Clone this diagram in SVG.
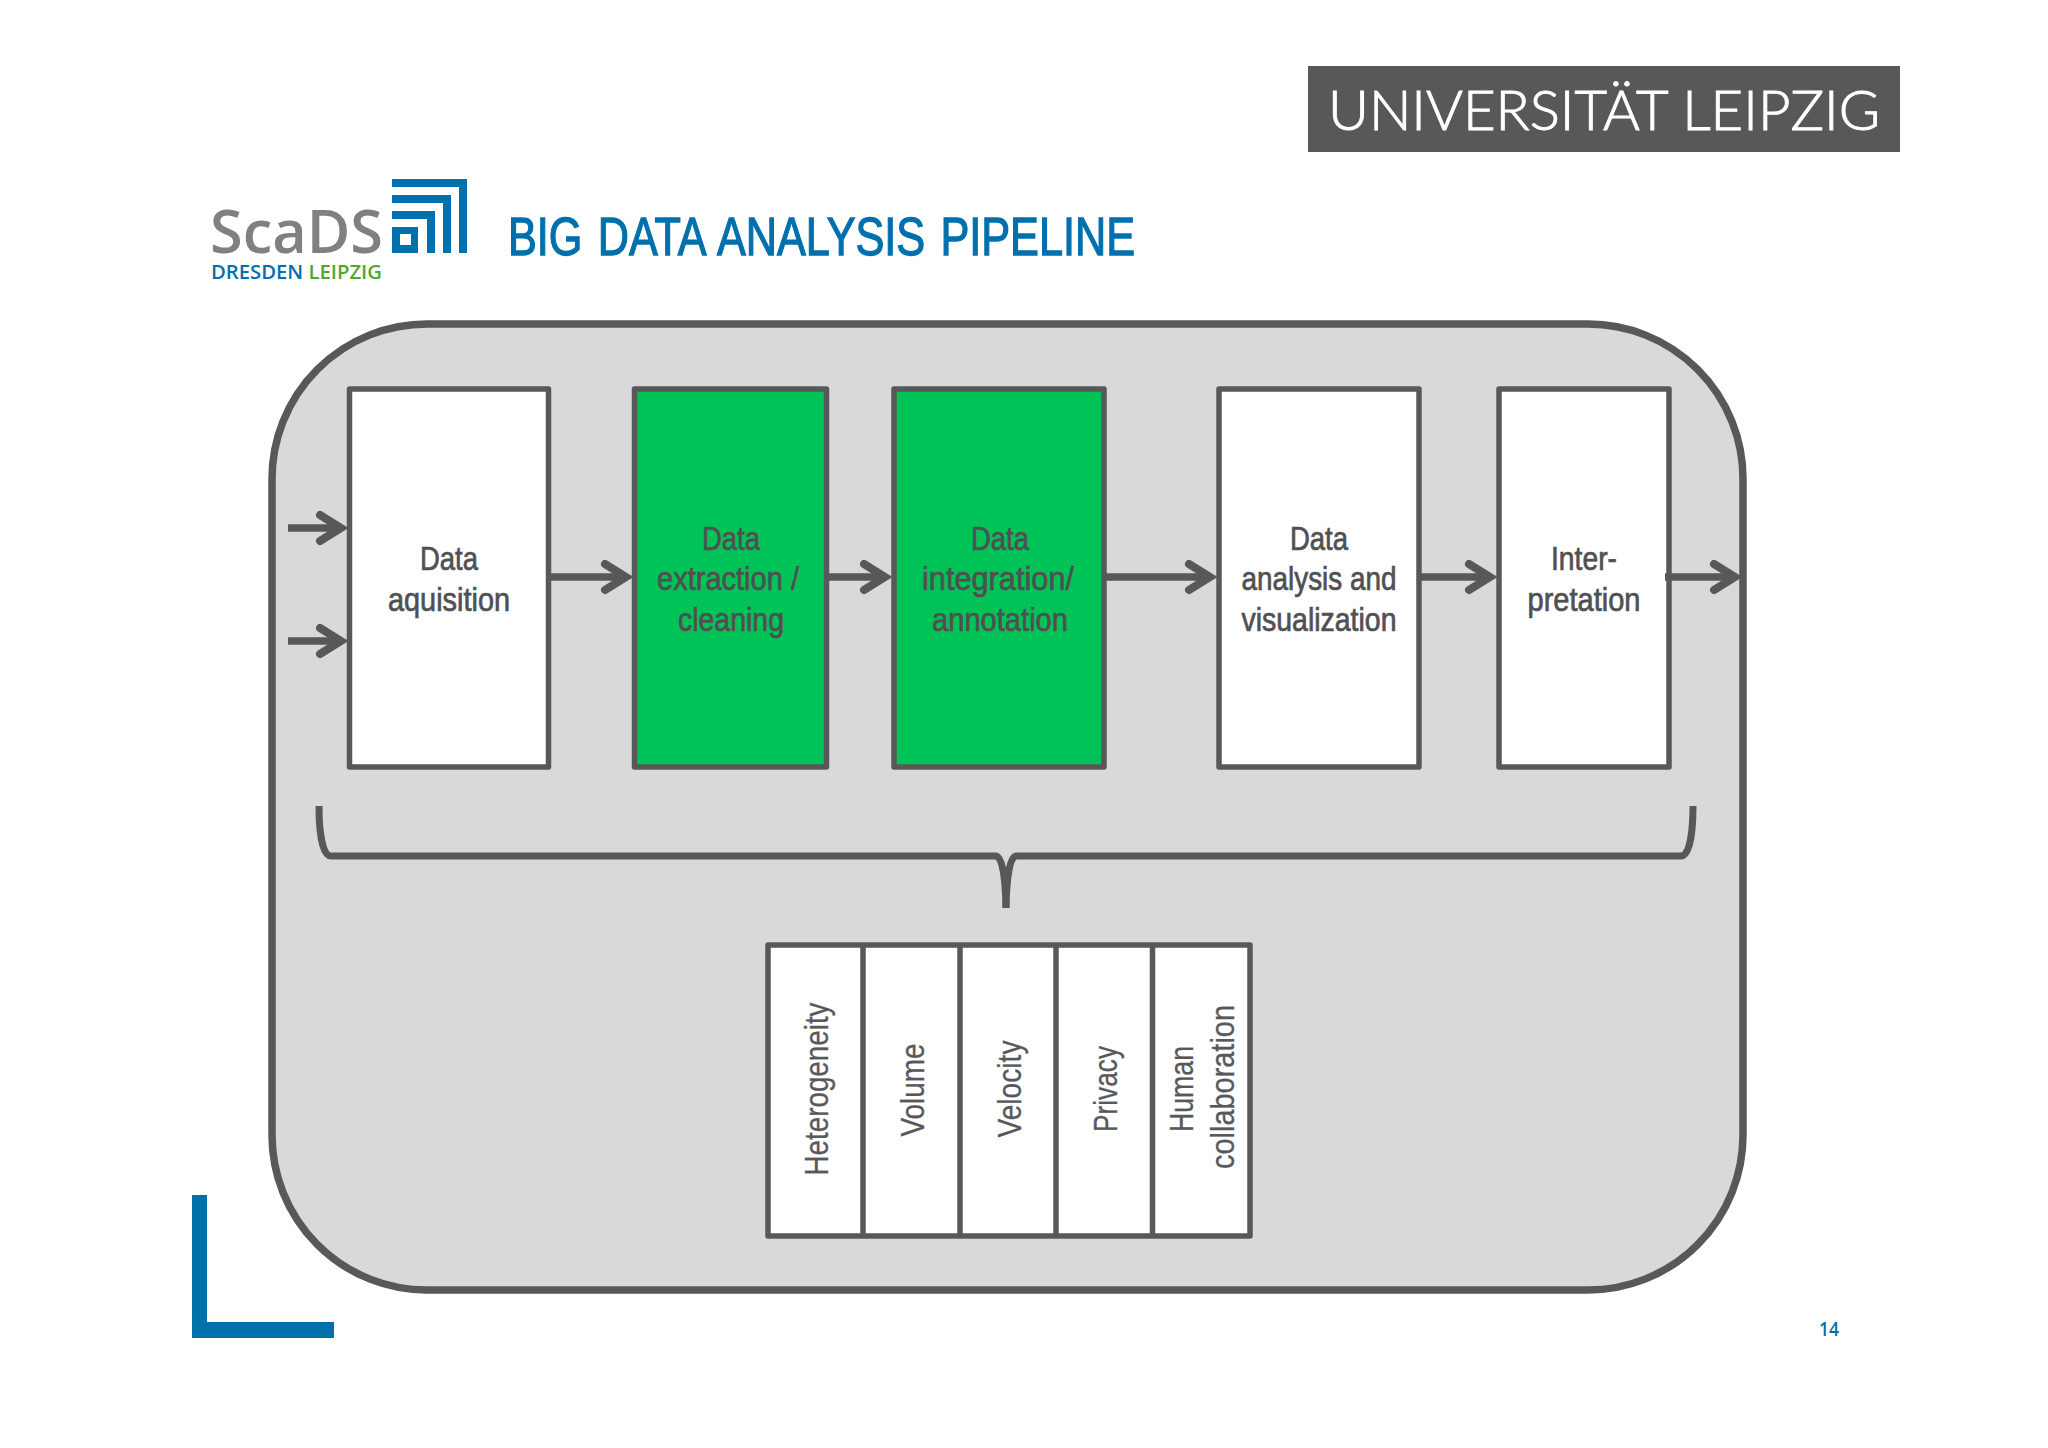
<svg xmlns="http://www.w3.org/2000/svg" width="2048" height="1448" viewBox="0 0 2048 1448">
<style>
.box{stroke:#58585a;stroke-width:5.5;stroke-linejoin:round}
.w{fill:#fff}.g{fill:#00c358}
.t{font-family:"Liberation Sans",Arial,sans-serif;font-size:33px;fill:#505052;text-anchor:middle;stroke:#505052;stroke-width:.7}
.v{font-family:"Liberation Sans",Arial,sans-serif;font-size:33px;fill:#58585a;text-anchor:middle;stroke:#58585a;stroke-width:.3}
.c{fill:none;stroke:#58585a;stroke-width:7.5;stroke-linecap:butt}
.h{fill:none;stroke:#58585a;stroke-width:8;stroke-linecap:round;stroke-linejoin:miter}
.b{fill:none;stroke:#58585a;stroke-width:7;stroke-linecap:butt}
</style>
<rect width="2048" height="1448" fill="#fff"/>
<g id="uni-logo"><rect x="1308" y="66" width="592" height="86" fill="#58585a"/>
<text x="1604" y="130" font-family="Lato,sans-serif" font-weight="300" font-size="56" fill="#fff" stroke="#fff" stroke-width="1" text-anchor="middle" textLength="552" lengthAdjust="spacingAndGlyphs">UNIVERSITÄT LEIPZIG</text></g>
<g id="scads-logo">
<text x="210" y="253" font-family="Open Sans,sans-serif" font-weight="600" font-size="60" fill="#808080" textLength="173" lengthAdjust="spacingAndGlyphs">ScaDS</text>
<text x="211" y="279" font-family="Open Sans,sans-serif" font-weight="600" font-size="20" fill="#0070ad" textLength="171" lengthAdjust="spacingAndGlyphs">DRESDEN <tspan fill="#4fa82d">LEIPZIG</tspan></text>
<path d="M392 179H467V253H459V187H392ZM392 195H451V253H443V203H392ZM392 211H435V253H427V219H392ZM392 227H418V253H392ZM400 234V245H411V234Z" fill="#0070ad" fill-rule="evenodd"/>
</g>
<text id="title" x="508" y="254.500" font-family="Liberation Sans,sans-serif" font-size="54" fill="#0070ad" stroke="#0070ad" stroke-width="1.3" word-spacing="4" textLength="627" lengthAdjust="spacingAndGlyphs">BIG DATA ANALYSIS PIPELINE</text>
<rect id="frame" x="272" y="324" width="1471" height="966" rx="155" ry="155" fill="#d9d9db" stroke="#58585a" stroke-width="7.5"/>
<g id="n1"><rect class="box w" x="349.500" y="389" width="199" height="378"/>
<text class="t" x="449" y="570" textLength="58" lengthAdjust="spacingAndGlyphs">Data</text>
<text class="t" x="449" y="611" textLength="122" lengthAdjust="spacingAndGlyphs">aquisition</text></g>
<g id="n2"><rect class="box g" x="634.500" y="389" width="192" height="378"/>
<text class="t" x="731" y="550" textLength="58" lengthAdjust="spacingAndGlyphs">Data</text>
<text class="t" x="728" y="590" textLength="142" lengthAdjust="spacingAndGlyphs">extraction /</text>
<text class="t" x="731" y="631" textLength="106" lengthAdjust="spacingAndGlyphs">cleaning</text></g>
<g id="n3"><rect class="box g" x="894" y="389" width="210" height="378"/>
<text class="t" x="1000" y="550" textLength="58" lengthAdjust="spacingAndGlyphs">Data</text>
<text class="t" x="998" y="590" textLength="152" lengthAdjust="spacingAndGlyphs">integration/</text>
<text class="t" x="1000" y="631" textLength="136" lengthAdjust="spacingAndGlyphs">annotation</text></g>
<g id="n4"><rect class="box w" x="1219" y="389" width="200" height="378"/>
<text class="t" x="1319" y="550" textLength="58" lengthAdjust="spacingAndGlyphs">Data</text>
<text class="t" x="1319" y="590" textLength="155" lengthAdjust="spacingAndGlyphs">analysis and</text>
<text class="t" x="1319" y="631" textLength="155" lengthAdjust="spacingAndGlyphs">visualization</text></g>
<g id="n5"><rect class="box w" x="1499" y="389" width="170" height="378"/>
<text class="t" x="1584" y="570" textLength="66" lengthAdjust="spacingAndGlyphs">Inter-</text>
<text class="t" x="1584" y="611" textLength="113" lengthAdjust="spacingAndGlyphs">pretation</text></g>
<g id="challenges"><rect class="box w" x="768" y="945" width="482" height="291"/>
<path d="M863 945V1236M960 945V1236M1056 945V1236M1152.500 945V1236" class="box" fill="none"/></g>
<g id="c1"><text class="v" transform="translate(828,1089) rotate(-90)" textLength="173" lengthAdjust="spacingAndGlyphs">Heterogeneity</text></g>
<g id="c2"><text class="v" transform="translate(924,1090) rotate(-90)" textLength="93" lengthAdjust="spacingAndGlyphs">Volume</text></g>
<g id="c3"><text class="v" transform="translate(1021,1089) rotate(-90)" textLength="97" lengthAdjust="spacingAndGlyphs">Velocity</text></g>
<g id="c4"><text class="v" transform="translate(1117,1089) rotate(-90)" textLength="86" lengthAdjust="spacingAndGlyphs">Privacy</text></g>
<g id="c5"><text class="v" transform="translate(1193,1089) rotate(-90)" textLength="86" lengthAdjust="spacingAndGlyphs">Human</text>
<text class="v" transform="translate(1234,1087) rotate(-90)" textLength="164" lengthAdjust="spacingAndGlyphs">collaboration</text></g>
<g id="connectors">
<path class="c" d="M288 528H339M288 641H339M551 577H624M828 577H883M1104 577H1208M1421 577H1488M1665 577H1733"/>
<path class="h" d="M320 515L341 528L320 541M320 628L341 641L320 654M605 564L626 577L605 590M864 564L885 577L864 590M1189 564L1210 577L1189 590M1469 564L1490 577L1469 590M1714 564L1735 577L1714 590"/>
<path class="b" id="brace-left" d="M319 806C319 830 322 856 331 856H996Q1005 858 1006 908"/>
<path class="b" id="brace-right" d="M1693 806C1693 830 1690 856 1681 856H1016Q1007 858 1006 908"/>
</g>
<path id="corner" d="M192 1195H207V1322H334V1338H192Z" fill="#0070ad"/>
<text id="page" x="1829" y="1336" font-family="Open Sans,sans-serif" font-weight="600" font-size="19.500" fill="#0070ad" text-anchor="middle" textLength="20" lengthAdjust="spacingAndGlyphs">14</text>
</svg>
